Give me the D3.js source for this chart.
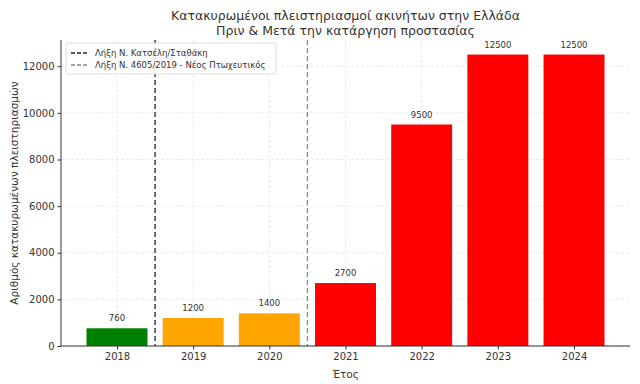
<!DOCTYPE html>
<html>
<head>
<meta charset="utf-8">
<script src="https://cdn.jsdelivr.net/npm/d3@7"></script>
<style>
  body { margin: 0; background: #fff; }
  text { font-family: "DejaVu Sans", sans-serif; }
</style>
</head>
<body>
<div id="chart"></div>
<script>
// Data
const years = ["2018", "2019", "2020", "2021", "2022", "2023", "2024"];
const values = [760, 1200, 1400, 2700, 9500, 12500, 12500];
const colors = ["green", "orange", "orange", "red", "red", "red", "red"];
const yTicks = [0, 2000, 4000, 6000, 8000, 10000, 12000];
const markers = [
  { pos: 0.5, label: "Λήξη Ν. Κατσέλη/Σταθάκη", color: "#222" },
  { pos: 2.5, label: "Λήξη Ν. 4605/2019 - Νέος Πτωχευτικός", color: "#888" },
];

const W = 640, H = 384;
const margin = { top: 40, right: 10, bottom: 38, left: 61 };
const width = W - margin.left - margin.right;
const height = H - margin.top - margin.bottom;

const svg = d3.select("#chart").append("svg")
  .attr("width", W).attr("height", H);

const g = svg.append("g")
  .attr("transform", `translate(${margin.left},${margin.top})`);

const x = d3.scaleLinear().domain([-0.735, years.length - 1 + 0.735]).range([0, width]);
const y = d3.scaleLinear().domain([0, 12500 * 1.05]).range([height, 0]);
const barW = x(0.8) - x(0);

// Grid
g.append("g").selectAll("line").data(yTicks).join("line")
  .attr("x1", 0).attr("x2", width)
  .attr("y1", d => y(d)).attr("y2", d => y(d))
  .attr("stroke", "#e4e4e4").attr("stroke-width", 0.8).attr("stroke-dasharray", "3,2");
g.append("g").selectAll("line").data(years).join("line")
  .attr("x1", (d, i) => x(i)).attr("x2", (d, i) => x(i))
  .attr("y1", 0).attr("y2", height)
  .attr("stroke", "#e4e4e4").attr("stroke-width", 0.8).attr("stroke-dasharray", "3,2");

// Bars
g.append("g").selectAll("rect").data(values).join("rect")
  .attr("x", (d, i) => x(i) - barW / 2)
  .attr("width", barW)
  .attr("y", d => y(d))
  .attr("height", d => height - y(d))
  .attr("fill", (d, i) => colors[i]);

// Value labels
g.append("g").selectAll("text").data(values).join("text")
  .attr("x", (d, i) => x(i))
  .attr("y", d => y(d) - 7)
  .attr("text-anchor", "middle")
  .attr("font-size", 8.5)
  .attr("fill", "#333")
  .text(d => d);

// Vertical marker lines
g.append("g").selectAll("line").data(markers).join("line")
  .attr("x1", d => x(d.pos)).attr("x2", d => x(d.pos))
  .attr("y1", 0).attr("y2", height)
  .attr("stroke", d => d.color).attr("stroke-width", 1.3)
  .attr("stroke-dasharray", "5,3");

// Axes
const xAxis = g.append("g")
  .attr("transform", `translate(0,${height})`)
  .call(d3.axisBottom(x).tickValues(d3.range(years.length)).tickFormat(i => years[i]).tickSize(3.5));
const yAxis = g.append("g")
  .call(d3.axisLeft(y).tickValues(yTicks).tickFormat(d3.format("d")).tickSize(3.5));
[xAxis, yAxis].forEach(a => {
  a.selectAll("text").attr("font-size", 10).attr("fill", "#333").style("font-family", "DejaVu Sans");
  a.selectAll("line").attr("stroke", "#333");
  a.select(".domain").attr("stroke", "#333");
});
xAxis.select(".domain").attr("d", `M0,0H${width}`);
yAxis.select(".domain").attr("d", `M0,${height}V0`);

// Axis labels
svg.append("text")
  .attr("x", margin.left + width / 2).attr("y", H - 6)
  .attr("text-anchor", "middle").attr("font-size", 10.5).attr("fill", "#333")
  .text("Έτος");
svg.append("text")
  .attr("transform", `translate(18,${margin.top + height / 2}) rotate(-90)`)
  .attr("text-anchor", "middle").attr("font-size", 10.5).attr("fill", "#333")
  .text("Αριθμός κατακυρωμένων πλειστηριασμών");

// Title
const title = svg.append("text")
  .attr("x", margin.left + width / 2).attr("text-anchor", "middle")
  .attr("font-size", 12.5).attr("fill", "#333");
title.append("tspan").attr("x", margin.left + width / 2).attr("y", 20)
  .text("Κατακυρωμένοι πλειστηριασμοί ακινήτων στην Ελλάδα");
title.append("tspan").attr("x", margin.left + width / 2).attr("y", 35)
  .text("Πριν & Μετά την κατάργηση προστασίας");

// Legend
const legend = g.append("g").attr("transform", "translate(5,3)");
legend.append("rect")
  .attr("width", 210).attr("height", 31).attr("rx", 2)
  .attr("fill", "white").attr("fill-opacity", 0.85)
  .attr("stroke", "#ddd");
markers.forEach((m, i) => {
  const ly = 10 + i * 12;
  legend.append("line")
    .attr("x1", 5).attr("x2", 22).attr("y1", ly).attr("y2", ly)
    .attr("stroke", m.color).attr("stroke-width", 1.3).attr("stroke-dasharray", "4,2");
  legend.append("text")
    .attr("x", 29).attr("y", ly + 3)
    .attr("font-size", 8.5).attr("fill", "#333")
    .text(m.label);
});
</script>
</body>
</html>
